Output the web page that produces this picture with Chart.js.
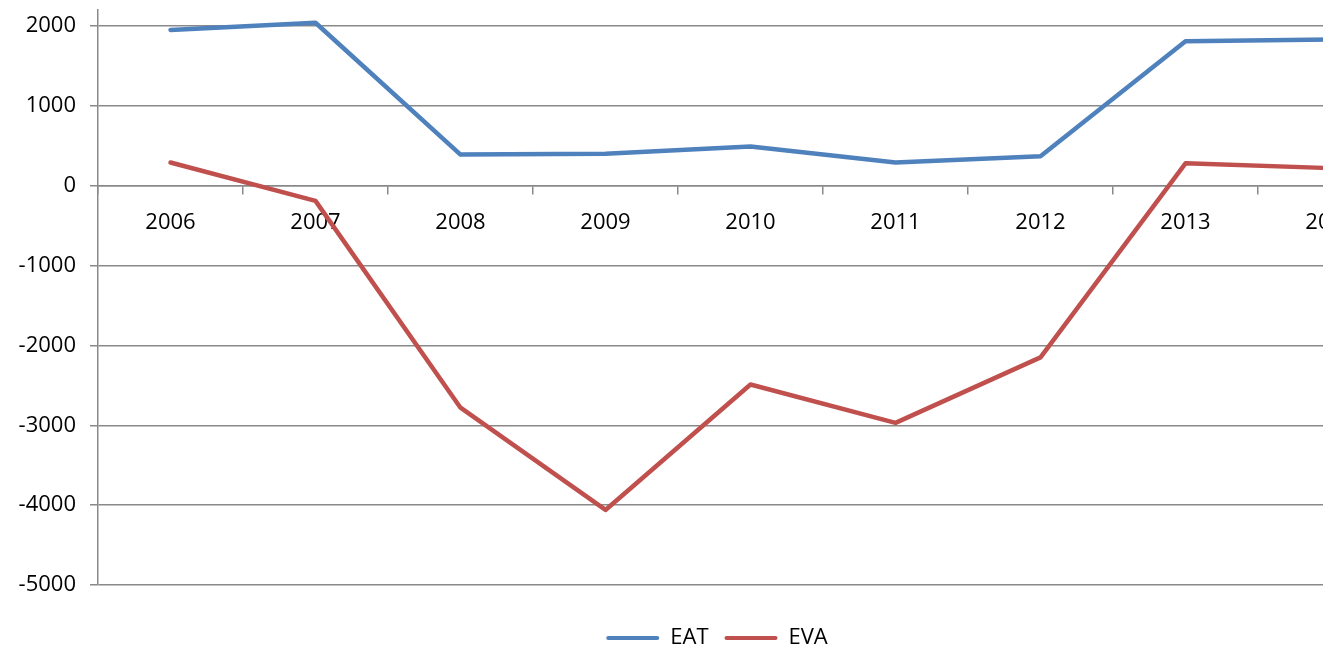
<!DOCTYPE html>
<html>
<head>
<meta charset="utf-8">
<script src="https://cdn.jsdelivr.net/npm/chart.js@4/dist/chart.umd.min.js"></script>
<style>
  html, body { margin: 0; padding: 0; background: #fff; overflow: hidden; }
  #wrap { width: 1434px; height: 659px; }
</style>
</head>
<body>
<div id="wrap"><canvas id="chart" width="1434" height="659"></canvas></div>
<script>
// values
const years = ['2006', '2007', '2008', '2009', '2010', '2011', '2012', '2013', '2014'];
const eat = [1950, 2040, 390, 400, 490, 290, 370, 1810, 1830];
const eva = [290, -190, -2780, -4060, -2490, -2970, -2150, 280, 220];
const yTicks = [-5000, -4000, -3000, -2000, -1000, 0, 1000, 2000];

const gridColor = '#898989';
const font = { family: '"Open Sans", sans-serif', size: 22 };

// legend is centred on the whole canvas, not on the padded width
const legendCentre = {
    id: 'legendCentre',
    afterLayout(chart) {
        if (chart.legend) {
            chart.legend.right = chart.width;
        }
    }
};

let config = {
    type: 'line',
    data: {
        labels: years,
        datasets: [{
            label: 'EAT',
            data: eat,
            borderColor: '#4F81BD',
            backgroundColor: '#4F81BD',
            borderWidth: 4.5,
            borderCapStyle: 'round',
            borderJoinStyle: 'round',
            pointRadius: 0,
            tension: 0
        }, {
            label: 'EVA',
            data: eva,
            borderColor: '#C0504D',
            backgroundColor: '#C0504D',
            borderWidth: 4.5,
            borderCapStyle: 'round',
            borderJoinStyle: 'round',
            pointRadius: 0,
            tension: 0
        }]
    },
    options: {
        responsive: false,
        animation: false,
        layout: { padding: { top: 10, right: 31, left: 0, bottom: 0 } },
        plugins: {
            tooltip: { enabled: false },
            legend: {
                position: 'bottom',
                // empty title only pushes the items down
                title: { display: true, text: '', font: { size: 1 }, padding: 12.4 },
                labels: {
                    font: font,
                    color: '#000',
                    boxWidth: 53,
                    boxHeight: 4,
                    padding: 16,
                    generateLabels: function(chart) {
                        let items = Chart.defaults.plugins.legend.labels.generateLabels(chart);
                        items.forEach(it => {
                            it.fillStyle = it.strokeStyle;
                            it.strokeStyle = 'rgba(0,0,0,0)';
                            it.lineWidth = 0;
                            it.borderRadius = 2;
                        });
                        return items;
                    }
                }
            }
        },
        scales: {
            x: {
                position: { y: 0 },
                offset: true,
                border: { display: true, color: gridColor, width: 1.5 },
                grid: {
                    display: true,
                    offset: true,
                    drawOnChartArea: false,
                    drawTicks: true,
                    tickLength: 8,
                    color: gridColor,
                    lineWidth: 1.5
                },
                ticks: {
                    font: font,
                    color: '#000',
                    padding: 16,
                    maxRotation: 0,
                    autoSkip: false
                }
            },
            y: {
                min: -5000,
                max: 2200,
                afterBuildTicks: function(scale) {
                    scale.ticks = yTicks.map(v => ({ value: v }));
                },
                afterFit: function(scale) {
                    scale.width = 98;
                    scale.paddingTop = 0;
                    scale.paddingBottom = 0;
                },
                border: { display: true, color: gridColor, width: 1.5 },
                grid: {
                    color: gridColor,
                    lineWidth: 1.5,
                    drawTicks: true,
                    tickLength: 8
                },
                ticks: {
                    font: font,
                    color: '#000',
                    padding: 14,
                    callback: function(value) {
                        return String(value);
                    }
                }
            }
        }
    },
    plugins: [legendCentre]
};

let ctx = document.getElementById('chart').getContext('2d');
let chart = new Chart(ctx, config);
</script>
</body>
</html>
